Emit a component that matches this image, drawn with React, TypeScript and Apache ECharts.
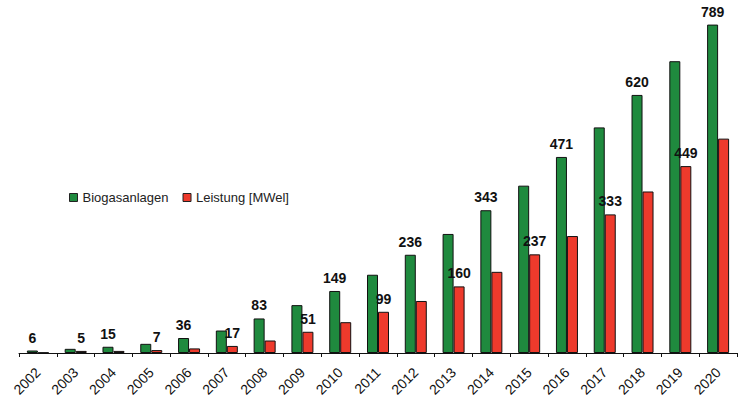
import React, { useEffect, useRef } from "react";
import * as echarts from "echarts";

const years = ["2002","2003","2004","2005","2006","2007","2008","2009","2010","2011","2012","2013","2014","2015","2016","2017","2018","2019","2020"];
const biogasanlagen = [6, 10, 15, 22, 36, 54, 83, 115, 149, 188, 236, 286, 343, 402, 471, 542, 620, 701, 789];
const leistung = [1, 5, 5, 7, 11, 17, 30, 51, 74, 99, 125, 160, 195, 237, 281, 333, 388, 449, 515];

const GREEN = "#1f8a3e";
const RED = "#ee3a2c";

export default function App() {
  const ref = useRef<HTMLDivElement>(null);
  useEffect(() => {
    if (!ref.current) return;
    const chart = echarts.init(ref.current, null, { renderer: "svg" });
    const labelStyle = {
      position: "top",
      distance: 6,
      fontFamily: "Liberation Sans, Arial, sans-serif",
      fontWeight: "bold",
      fontSize: 14,
      color: "#111",
    };
    chart.setOption({
      animation: false,
      backgroundColor: "#fff",
      grid: { left: 19, right: 3, top: 20, bottom: 53, containLabel: false },
      legend: {
        left: 64,
        top: 186,
        itemWidth: 8,
        itemHeight: 8,
        itemGap: 14,
        icon: "rect",
        textStyle: { fontFamily: "Liberation Sans, Arial, sans-serif", fontSize: 13, color: "#222" },
        itemStyle: { borderColor: "#222", borderWidth: 1 },
        data: ["Biogasanlagen", "Leistung [MWel]"],
      },
      xAxis: {
        type: "category",
        data: years,
        axisLine: { lineStyle: { color: "#111", width: 1 } },
        axisTick: { show: true, length: 4, alignWithLabel: false, lineStyle: { color: "#111" } },
        axisLabel: {
          rotate: 45,
          margin: 17,
          fontFamily: "Liberation Sans, Arial, sans-serif",
          fontSize: 14,
          color: "#111",
          interval: 0,
        },
      },
      yAxis: {
        type: "value",
        min: 0,
        max: 800,
        show: false,
        splitLine: { show: false },
      },
      series: [
        {
          name: "Biogasanlagen",
          type: "bar",
          barWidth: 11,
          barGap: "0%",
          itemStyle: { color: GREEN, borderColor: "#111", borderWidth: 1 },
          label: labelStyle,
          data: biogasanlagen.map((v, i) => ({ value: v, label: { show: i % 2 === 0 } })),
        },
        {
          name: "Leistung [MWel]",
          type: "bar",
          barWidth: 11,
          itemStyle: { color: RED, borderColor: "#111", borderWidth: 1 },
          label: labelStyle,
          data: leistung.map((v, i) => ({ value: v, label: { show: i % 2 === 1 } })),
        },
      ],
    });
    return () => chart.dispose();
  }, []);
  return <div ref={ref} style={{ width: 740, height: 406, position: "absolute", left: 0, top: 0 }} />;
}
